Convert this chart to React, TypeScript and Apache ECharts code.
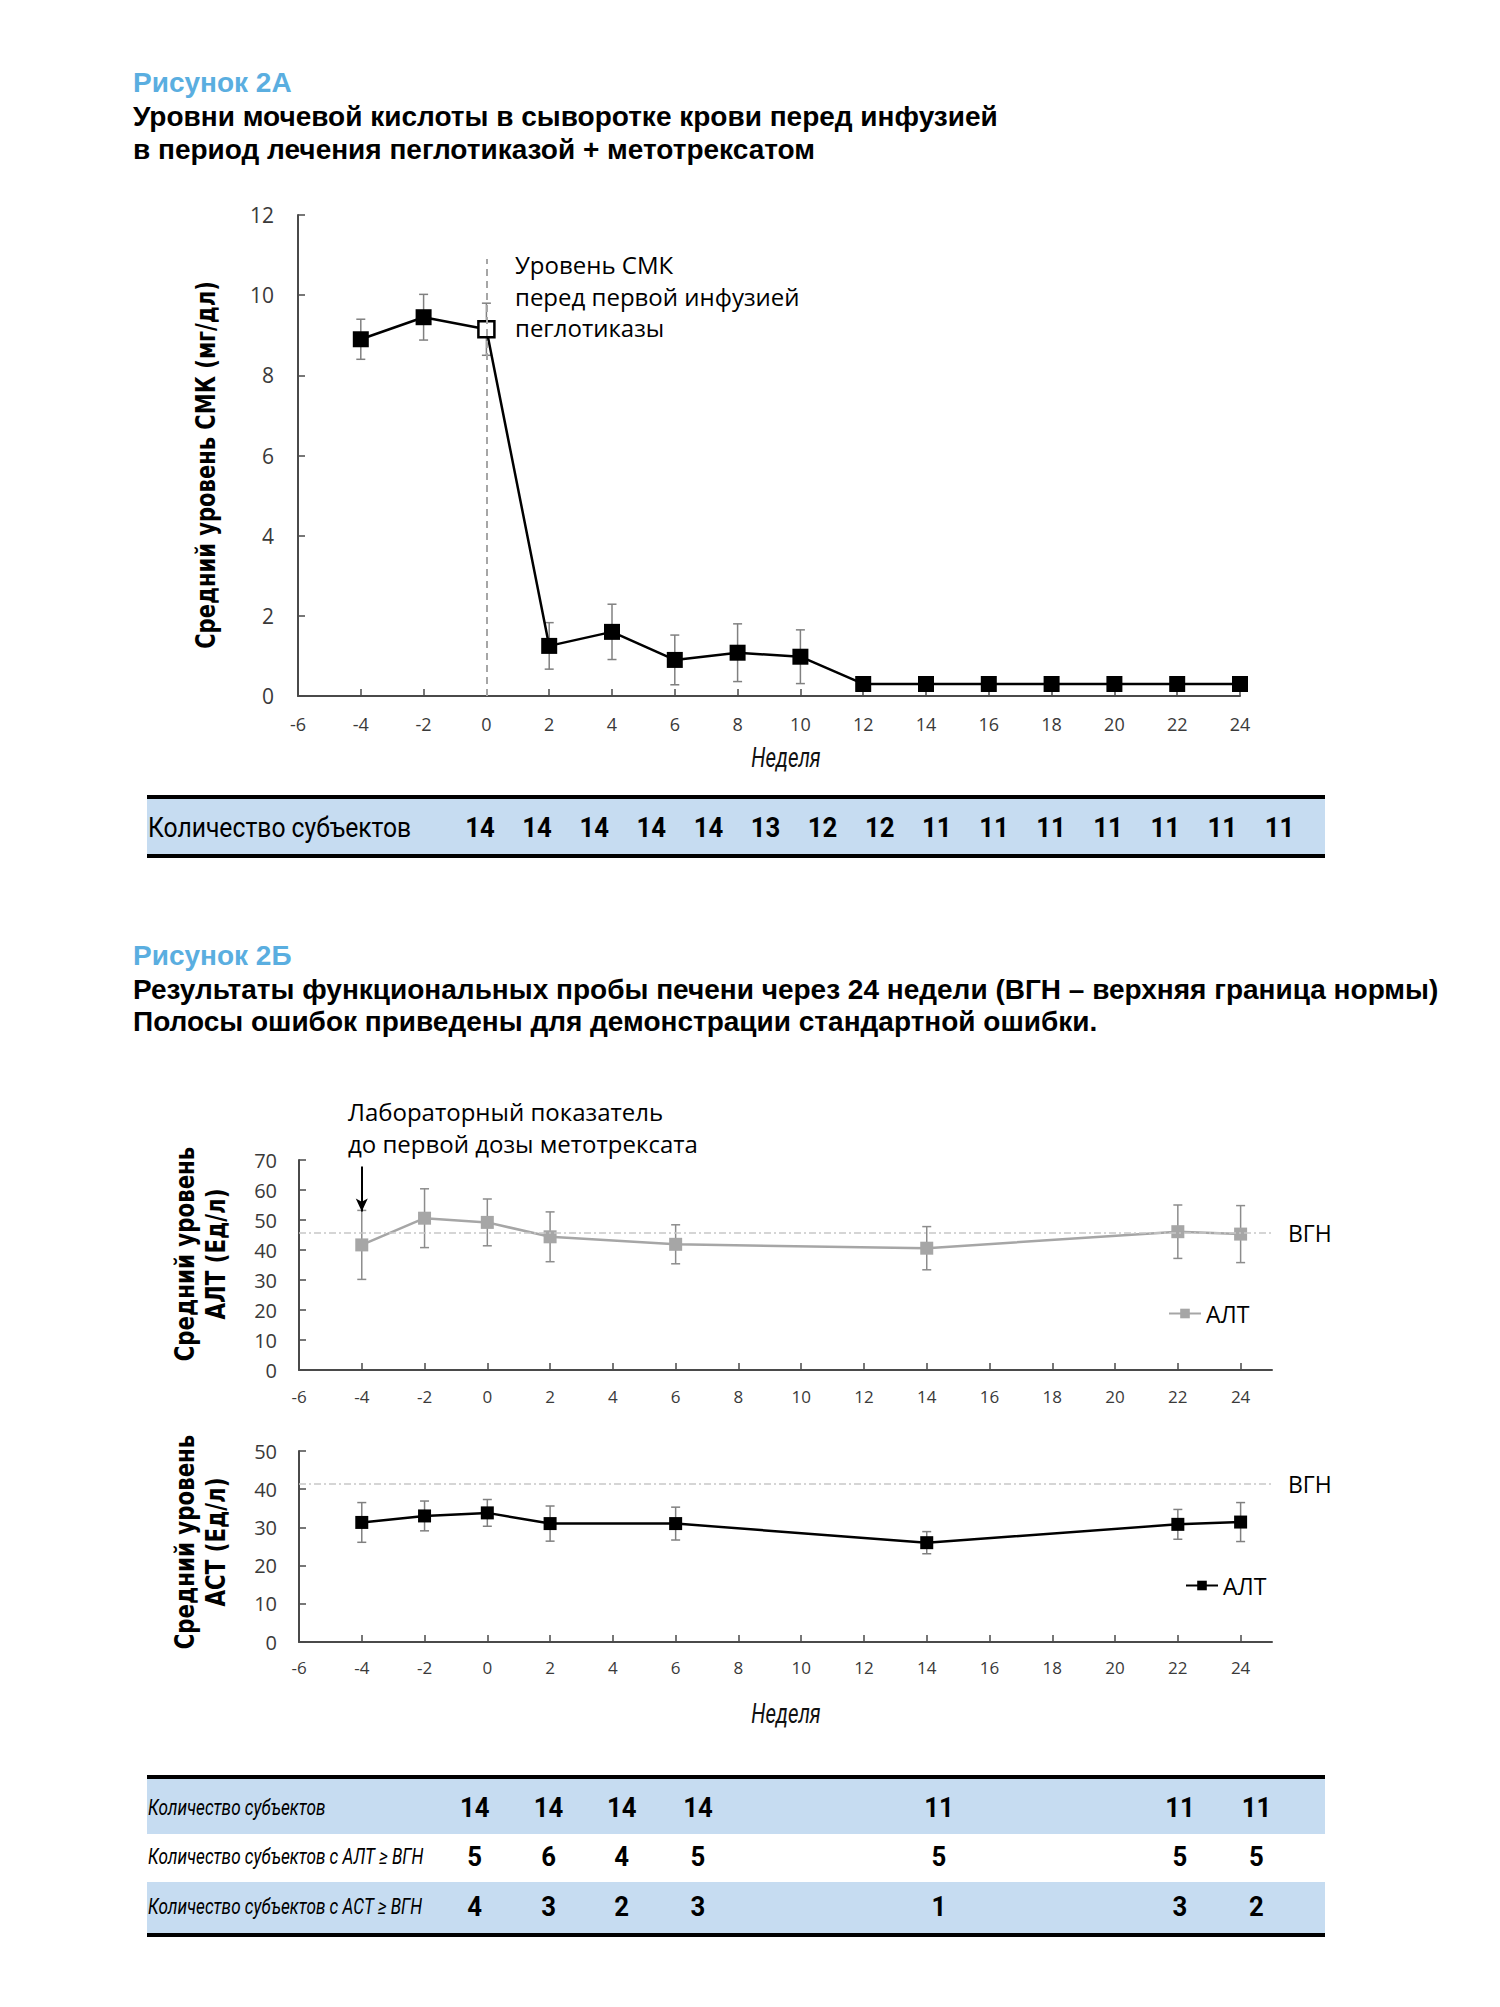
import React, { useEffect, useRef } from 'react';
import * as echarts from 'echarts';

// ---------- DATA ----------
const weeksA = [-4, -2, 0, 2, 4, 6, 8, 10, 12, 14, 16, 18, 20, 22, 24];
const uaMean = [8.9, 9.45, 9.15, 1.25, 1.6, 0.9, 1.08, 0.98, 0.3, 0.3, 0.3, 0.3, 0.3, 0.3, 0.3];
const uaErr = [0.5, 0.57, 0.65, 0.58, 0.69, 0.62, 0.72, 0.67, 0.1, 0.1, 0.1, 0.1, 0.1, 0.1, 0.1];
const subjectsA = [14, 14, 14, 14, 14, 13, 12, 12, 11, 11, 11, 11, 11, 11, 11];
const uaBaselineLineTop = 10.9;

const weeksB = [-4, -2, 0, 2, 6, 14, 22, 24];
const altMean = [41.7, 50.6, 49.2, 44.4, 41.9, 40.6, 46.1, 45.3];
const altErr = [11.5, 9.8, 7.8, 8.3, 6.5, 7.2, 8.9, 9.5];
const astMean = [31.3, 33.0, 33.8, 31.0, 31.0, 26.0, 30.8, 31.4];
const astErr = [5.2, 3.9, 3.5, 4.6, 4.3, 2.9, 3.9, 5.1];
const altUln = 45.6;
const astUln = 41.3;
const arrowFrom = 67.8;
const arrowTo = 52.8;

const subjectsB = [14, 14, 14, 14, 11, 11, 11];
const altAboveUln = [5, 6, 4, 5, 5, 5, 5];
const astAboveUln = [4, 3, 2, 3, 1, 3, 2];

const xTickLabels = [-6, -4, -2, 0, 2, 4, 6, 8, 10, 12, 14, 16, 18, 20, 22, 24];

// ---------- STYLE / LAYOUT ----------
const AXIS = '#4a4a4a';
const LABEL = '#3a3a3a';
const BLUE = '#5aaee0';
const BAND = '#c6dcf1';
const TICK_FONT = 'Open Sans, sans-serif';
const NOTE_FONT = 'Open Sans, sans-serif';
const TITLE_FONT = 'Liberation Sans, Arial, sans-serif';
const YNAME_FONT = 'DejaVu Sans, sans-serif';
const TABLE_FONT = 'Roboto, sans-serif';

const T1_X0 = 480;
const T1_DX = 57.1;
const T2_X = [474.7, 548.6, 621.7, 698, 939, 1180, 1256.5];

function errorSeries(xi: number, yi: number, xs: number[], m: number[], e: number[], color: string, cap: number) {
  return {
    type: 'custom',
    xAxisIndex: xi,
    yAxisIndex: yi,
    z: 1,
    silent: true,
    clip: false,
    data: xs.map((x, i) => [x, m[i] - e[i], m[i] + e[i]]),
    encode: { x: 0, y: [1, 2] },
    renderItem: (params: any, api: any) => {
      const x = api.value(0);
      const p1 = api.coord([x, api.value(1)]);
      const p2 = api.coord([x, api.value(2)]);
      const st = { stroke: color, lineWidth: 1.5 };
      return {
        type: 'group',
        children: [
          { type: 'line', shape: { x1: p1[0], y1: p1[1], x2: p2[0], y2: p2[1] }, style: st },
          { type: 'line', shape: { x1: p1[0] - cap, y1: p1[1], x2: p1[0] + cap, y2: p1[1] }, style: st },
          { type: 'line', shape: { x1: p2[0] - cap, y1: p2[1], x2: p2[0] + cap, y2: p2[1] }, style: st },
        ],
      };
    },
  };
}

function xAxis(gridIndex: number, max: number, fontSize: number, margin: number) {
  return {
    type: 'value',
    gridIndex,
    min: -6,
    max,
    interval: 2,
    axisLine: { show: true, onZero: false, lineStyle: { color: AXIS, width: 2 } },
    axisTick: {
      show: true,
      inside: true,
      length: 7,
      lineStyle: { color: AXIS, width: 1.5 },
      customValues: xTickLabels.filter((v) => v > -6),
    },
    axisLabel: {
      customValues: xTickLabels,
      fontSize,
      color: LABEL,
      fontFamily: TICK_FONT,
      margin,
      formatter: (v: number) => (v > 24 ? '' : String(v)),
    },
    splitLine: { show: false },
  };
}

function yAxis(gridIndex: number, max: number, interval: number, fontSize: number, margin: number) {
  return {
    type: 'value',
    gridIndex,
    min: 0,
    max,
    interval,
    axisLine: { show: true, onZero: false, lineStyle: { color: AXIS, width: 2 } },
    axisTick: { show: true, inside: true, length: 7, lineStyle: { color: AXIS, width: 1.5 } },
    axisLabel: { fontSize, color: LABEL, fontFamily: TICK_FONT, margin },
    splitLine: { show: false },
  };
}

function txt(x: number, y: number, text: string, extra: any = {}, elExtra: any = {}) {
  return {
    type: 'text',
    x,
    y,
    silent: true,
    ...elExtra,
    style: {
      text,
      fill: '#000',
      textAlign: 'left',
      align: 'left',
      textVerticalAlign: 'middle',
      verticalAlign: 'middle',
      ...extra,
    },
  };
}

function rect(x: number, y: number, w: number, h: number, fill: string) {
  return { type: 'rect', silent: true, shape: { x, y, width: w, height: h }, style: { fill } };
}

function buildGraphic() {
  const g: any[] = [];
  const titleStyle = { fontSize: 28, fontWeight: 'bold', fontFamily: TITLE_FONT };
  g.push(txt(133, 82, 'Рисунок 2А', { ...titleStyle, fill: BLUE }));
  g.push(txt(133, 116, 'Уровни мочевой кислоты в сыворотке крови перед инфузией', titleStyle));
  g.push(txt(133, 149, 'в период лечения пеглотиказой + метотрексатом', titleStyle));
  g.push(txt(133, 955, 'Рисунок 2Б', { ...titleStyle, fill: BLUE }));
  g.push(txt(133, 989, 'Результаты функциональных пробы печени через 24 недели (ВГН – верхняя граница нормы)', titleStyle));
  g.push(txt(133, 1021, 'Полосы ошибок приведены для демонстрации стандартной ошибки.', titleStyle));

  // annotations
  g.push(txt(515, 296, 'Уровень СМК\nперед первой инфузией\nпеглотиказы', { fontSize: 24, fontFamily: NOTE_FONT, lineHeight: 31.5 }));
  g.push(txt(348, 1127.5, 'Лабораторный показатель\nдо первой дозы метотрексата', { fontSize: 24, fontFamily: NOTE_FONT, lineHeight: 31.6 }));

  // y axis names
  const yn = { fontSize: 27, fontWeight: 'bold', fontFamily: YNAME_FONT, textAlign: 'center', align: 'center' };
  g.push(txt(206, 465, 'Средний уровень СМК (мг/дл)', yn, { rotation: Math.PI / 2, scaleX: 0.78 }));
  g.push(txt(200, 1254, 'Средний уровень\nАЛТ (Ед/л)', { ...yn, lineHeight: 31 }, { rotation: Math.PI / 2, scaleX: 0.79 }));
  g.push(txt(200, 1542, 'Средний уровень\nАСТ (Ед/л)', { ...yn, lineHeight: 31 }, { rotation: Math.PI / 2, scaleX: 0.79 }));

  // x axis names
  const xn = { fontSize: 28, fontStyle: 'italic', fontFamily: TABLE_FONT, textAlign: 'center', align: 'center', fill: '#111' };
  g.push(txt(786, 757, 'Неделя', xn, { scaleX: 0.73 }));
  g.push(txt(786, 1713, 'Неделя', xn, { scaleX: 0.73 }));

  // table 1
  const num = { fontSize: 28, fontWeight: 'bold', fontFamily: TABLE_FONT, textAlign: 'center', align: 'center' };
  g.push(rect(147, 799, 1178, 56, BAND));
  g.push(rect(147, 795, 1178, 4, '#000'));
  g.push(rect(147, 854, 1178, 4, '#000'));
  g.push(txt(148, 828, 'Количество субъектов', { fontSize: 27, fontFamily: TABLE_FONT }, { scaleX: 0.915 }));
  subjectsA.forEach((n, i) => {
    g.push(txt(T1_X0 + i * T1_DX, 828, String(n), num, { scaleX: 0.92 }));
  });

  // table 2
  g.push(rect(147, 1779, 1178, 55, BAND));
  g.push(rect(147, 1882, 1178, 52, BAND));
  g.push(rect(147, 1775, 1178, 4, '#000'));
  g.push(rect(147, 1933, 1178, 4, '#000'));
  const rowLabels = ['Количество субъектов', 'Количество субъектов с АЛТ ≥ ВГН', 'Количество субъектов с АСТ ≥ ВГН'];
  const rowY = [1808, 1857, 1907];
  const rows = [subjectsB, altAboveUln, astAboveUln];
  rows.forEach((row, r) => {
    g.push(txt(148, rowY[r], rowLabels[r], { fontSize: 22, fontStyle: 'italic', fontFamily: TABLE_FONT }, { scaleX: 0.78 }));
    row.forEach((n, i) => {
      g.push(txt(T2_X[i], rowY[r], String(n), num, { scaleX: 0.92 }));
    });
  });
  return g;
}

function buildOption() {
  const uaData = weeksA.map((w, i) =>
    w === 0
      ? { value: [w, uaMean[i]], itemStyle: { color: '#fff', borderColor: '#000', borderWidth: 2.5 } }
      : [w, uaMean[i]]
  );
  const ulnLabel = { show: true, position: 'end', formatter: 'ВГН', distance: 16, fontSize: 23, color: '#000', fontFamily: NOTE_FONT };
  const ulnStyle = { type: [7, 3, 2, 3], color: '#c8c8c8', width: 1.5 };
  return {
    animation: false,
    backgroundColor: '#fff',
    grid: [
      { left: 298, top: 215, width: 942, height: 481 },
      { left: 299, top: 1160, width: 973, height: 210 },
      { left: 299, top: 1451, width: 973, height: 191 },
    ],
    xAxis: [xAxis(0, 24, 18, 19), xAxis(1, 25, 17, 18), xAxis(2, 25, 17, 17)],
    yAxis: [yAxis(0, 12, 2, 21, 24), yAxis(1, 70, 10, 20, 22), yAxis(2, 50, 10, 20, 22)],
    legend: [
      {
        data: ['АЛТ'],
        left: 1168,
        top: 1302,
        padding: 0,
        itemWidth: 32,
        itemHeight: 12,
        selectedMode: false,
        textStyle: { fontSize: 23, color: '#000', fontFamily: NOTE_FONT },
      },
      {
        data: ['АСТ'],
        formatter: () => 'АЛТ',
        left: 1185,
        top: 1574,
        padding: 0,
        itemWidth: 32,
        itemHeight: 12,
        selectedMode: false,
        textStyle: { fontSize: 23, color: '#000', fontFamily: NOTE_FONT },
      },
    ],
    series: [
      errorSeries(0, 0, weeksA, uaMean, uaErr, '#808080', 4.5),
      {
        type: 'line',
        name: 'СМК',
        xAxisIndex: 0,
        yAxisIndex: 0,
        z: 3,
        data: uaData,
        symbol: 'rect',
        symbolSize: 16,
        lineStyle: { color: '#000', width: 2.5 },
        itemStyle: { color: '#000' },
        markLine: {
          silent: true,
          symbol: 'none',
          label: { show: false },
          lineStyle: { type: [7, 5], color: '#a6a6a6', width: 2 },
          data: [[{ coord: [0, 0] }, { coord: [0, uaBaselineLineTop] }]],
        },
      },
      errorSeries(1, 1, weeksB, altMean, altErr, '#8c8c8c', 4.5),
      {
        type: 'line',
        name: 'АЛТ',
        xAxisIndex: 1,
        yAxisIndex: 1,
        z: 3,
        data: weeksB.map((w, i) => [w, altMean[i]]),
        symbol: 'rect',
        symbolSize: 13,
        lineStyle: { color: '#a6a6a6', width: 2.5 },
        itemStyle: { color: '#a6a6a6' },
        markLine: {
          silent: true,
          symbol: 'none',
          data: [
            { yAxis: altUln, lineStyle: ulnStyle, label: ulnLabel },
            [
              { coord: [-4, arrowFrom], symbol: 'none', lineStyle: { type: 'solid', color: '#000', width: 2 }, label: { show: false } },
              { coord: [-4, arrowTo], symbol: 'arrow', symbolSize: [9, 13], lineStyle: { type: 'solid', color: '#000', width: 2 }, label: { show: false } },
            ],
          ],
        },
      },
      errorSeries(2, 2, weeksB, astMean, astErr, '#808080', 4.5),
      {
        type: 'line',
        name: 'АСТ',
        xAxisIndex: 2,
        yAxisIndex: 2,
        z: 3,
        data: weeksB.map((w, i) => [w, astMean[i]]),
        symbol: 'rect',
        symbolSize: 13,
        lineStyle: { color: '#000', width: 2.5 },
        itemStyle: { color: '#000' },
        markLine: {
          silent: true,
          symbol: 'none',
          data: [{ yAxis: astUln, lineStyle: ulnStyle, label: ulnLabel }],
        },
      },
    ],
    graphic: buildGraphic(),
  };
}

export default function App() {
  const ref = useRef<HTMLDivElement>(null);
  useEffect(() => {
    if (!ref.current) return;
    const chart = echarts.init(ref.current, undefined, { renderer: 'svg' });
    chart.setOption(buildOption() as any);
    return () => chart.dispose();
  }, []);
  return (
    <div
      ref={ref}
      style={{ position: 'absolute', left: 0, top: 0, width: 1500, height: 2007, background: '#fff' }}
    />
  );
}
